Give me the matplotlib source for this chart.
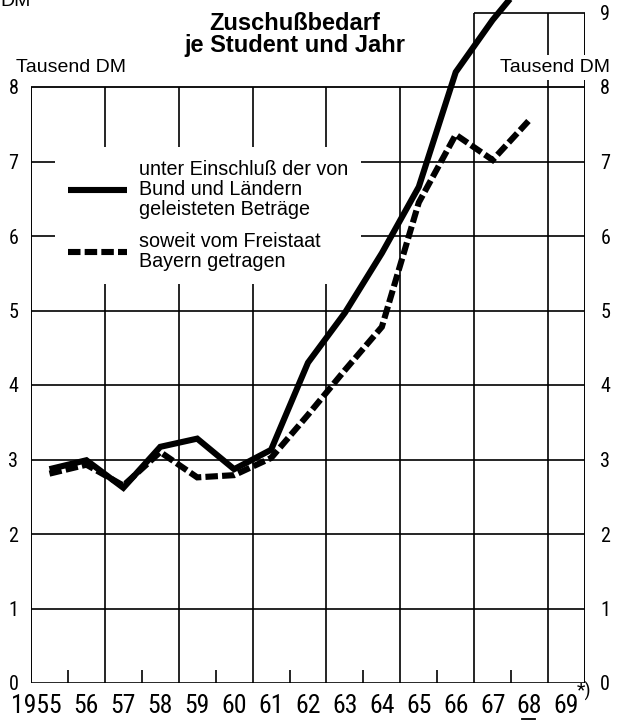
import matplotlib
matplotlib.use("Agg")
import matplotlib.pyplot as plt
from matplotlib import font_manager
from matplotlib.font_manager import FontProperties
from matplotlib.lines import Line2D
import matplotlib.transforms as mtransforms

# ---------------- data ----------------
year_labels = ['1955', '56', '57', '58', '59', '60', '61', '62',
               '63', '64', '65', '66', '67', '68', '69']
data_years = [1955, 1956, 1957, 1958, 1959, 1960, 1961, 1962,
              1963, 1964, 1965, 1966, 1967, 1968]
# Zuschussbedarf je Student und Jahr (Tausend DM)
gesamt = [2.87, 2.99, 2.62, 3.17, 3.28, 2.87, 3.13, 4.30,
          4.97, 5.77, 6.66, 8.20, 8.90, 9.50]
bayern = [2.81, 2.93, 2.65, 3.10, 2.76, 2.79, 3.02, 3.60,
          4.20, 4.78, 6.45, 7.36, 7.02, 7.56]
left_ticks = [0, 1, 2, 3, 4, 5, 6, 7, 8]
right_ticks = [0, 1, 2, 3, 4, 5, 6, 7, 8, 9]
label_gesamt = 'unter Einschluß der von\nBund und Ländern\ngeleisteten Beträge'
label_bayern = 'soweit vom Freistaat\nBayern getragen'
title_lines = ['Zuschußbedarf', 'je Student und Jahr']
unit_label = 'Tausend DM'
footnote_mark = '*)'


def pick(*names):
    for n in names:
        try:
            font_manager.findfont(FontProperties(family=n), fallback_to_default=False)
            return n
        except Exception:
            continue
    return 'DejaVu Sans'


regular = pick('Liberation Sans', 'DejaVu Sans')
narrow = pick('Liberation Sans Narrow', 'Roboto Condensed', 'Open Sans Condensed',
              'DejaVu Sans Condensed', 'Liberation Sans', 'DejaVu Sans')
is_narrow = narrow not in ('Liberation Sans', 'DejaVu Sans')
xfs = 18.5 if is_narrow else 16
yfs = 14.5 if is_narrow else 13.5

plt.rcParams['lines.scale_dashes'] = False

W, H = 627, 723
fig = plt.figure(figsize=(W / 100, H / 100), dpi=100)
fig.patch.set_facecolor('white')
ax = fig.add_axes([31 / W, 40 / H, 554 / W, 683 / H])
n_years = len(year_labels)
ymax_main = left_ticks[-1]
ax.set_xlim(0, n_years)
ax.set_ylim(0, 683 / 74.5)
for s in ax.spines.values():
    s.set_visible(False)

# positions: each year occupies one interval, values at its centre
first = int(year_labels[0])
xpos = [y - first + 0.5 for y in data_years]
centers = [i + 0.5 for i in range(n_years)]

# ---------------- grid / frame ----------------
kw = dict(color='black', zorder=1)
grid_x = list(range(2, n_years, 2))
minor_x = list(range(1, n_years - 1, 2))
ax.hlines(left_ticks[1:-1], 0, n_years, lw=1.2, **kw)
ax.vlines(grid_x, 0, ymax_main, lw=1.2, **kw)
ax.vlines(minor_x, 0, 0.18, lw=1.2, **kw)
ax.hlines([ymax_main], 0, n_years, lw=1.3, **kw)
ax.hlines([0], 0, n_years, lw=1.9, **kw)
ax.vlines([0], 0, ymax_main, lw=1.4, **kw)
ax.vlines([n_years], 0, right_ticks[-1], lw=1.4, **kw)
# extension box above 8 on the right
ax.vlines([grid_x[-2], grid_x[-1]], ymax_main, right_ticks[-1], lw=1.2, **kw)
ax.hlines([right_ticks[-1]], grid_x[-2], n_years, lw=1.2, **kw)

# ---------------- data lines ----------------
l1, = ax.plot(xpos, gesamt, color='black', lw=4.4, solid_joinstyle='miter',
              solid_capstyle='butt', zorder=3)
l2, = ax.plot(xpos, bayern, color='black', lw=4.4, linestyle=(0, (9, 3)),
              dash_capstyle='butt', dash_joinstyle='miter', zorder=3)

# ---------------- legend ----------------
leg = ax.legend(handles=[l1, l2], labels=[label_gesamt, label_bayern],
                loc='upper left', bbox_to_anchor=(0.65, 7.19),
                bbox_transform=ax.transData, borderaxespad=0,
                frameon=True, facecolor='white', edgecolor='none',
                framealpha=1, fancybox=False, handlelength=3.0,
                handletextpad=0.6, labelspacing=0.7, borderpad=0.65,
                prop=FontProperties(family=regular, size=14.2))
for t in leg.get_texts():
    t.set_linespacing(1.05)
leg.set_zorder(2)

# ---------------- ticks ----------------
ax.set_xticks(centers, labels=[''] + year_labels[1:])
ax.tick_params(axis='x', length=0, pad=8)
for lab in ax.get_xticklabels():
    lab.set_fontfamily(narrow)
    lab.set_fontsize(xfs)
ax.annotate(year_labels[0], xy=(centers[0], 0), xytext=(12, -11),
            textcoords='offset pixels', ha='right', va='top',
            family=narrow, fontsize=xfs, annotation_clip=False)
ax.set_yticks(left_ticks, labels=[str(t) for t in left_ticks])
ax.tick_params(axis='y', length=0, pad=9)
for lab in ax.get_yticklabels():
    lab.set_fontfamily(narrow)
    lab.set_fontsize(yfs)

ax2 = ax.twinx()
ax2.set_ylim(ax.get_ylim())
for s in ax2.spines.values():
    s.set_visible(False)
ax2.set_yticks(right_ticks, labels=[str(t) for t in right_ticks])
ax2.tick_params(axis='y', length=0, pad=11)
for lab in ax2.get_yticklabels():
    lab.set_fontfamily(narrow)
    lab.set_fontsize(yfs)

# footnote mark after 69 and underline under 68
ax.annotate(footnote_mark, xy=(n_years, 0), xytext=(-8, -8),
            textcoords='offset pixels', ha='left', va='center',
            family=narrow, fontsize=14, annotation_clip=False)
i68 = year_labels.index('68')
ul = Line2D([centers[i68] - 0.2, centers[i68] + 0.15], [0, 0], color='black', lw=1.3,
            transform=ax.transData + mtransforms.ScaledTranslation(0, -0.36, fig.dpi_scale_trans),
            clip_on=False)
ax.add_line(ul)

# ---------------- texts ----------------
ax.text(7.15, 8.765, title_lines[0], ha='center', va='baseline',
        family=regular, fontsize=17, fontweight='bold', zorder=6)
ax.text(7.15, 8.475, title_lines[1], ha='center', va='baseline',
        family=regular, fontsize=17, fontweight='bold', zorder=6)
ax.text(-0.41, 8.2, unit_label, ha='left', va='baseline',
        family=regular, fontsize=14, zorder=6, clip_on=False)
ax.text(12.7, 8.2, unit_label, ha='left', va='baseline',
        family=regular, fontsize=14, zorder=6, clip_on=False,
        bbox=dict(facecolor='white', edgecolor='none', pad=3))
fig.text(0.0, 1 - 6 / H, 'DM', ha='left', va='baseline',
         family=regular, fontsize=14)

fig.savefig('out.png', dpi=100, facecolor='white')
